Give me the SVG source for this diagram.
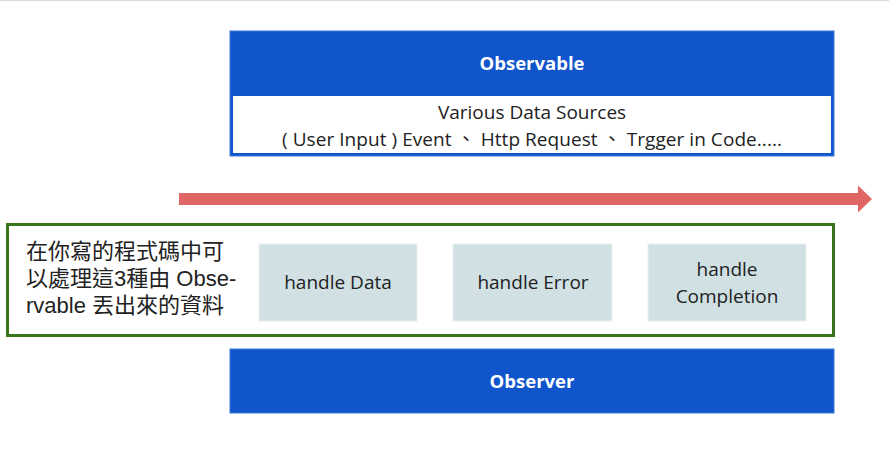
<svg xmlns="http://www.w3.org/2000/svg" width="889" height="454" viewBox="0 0 889 454">
<style>
.blue{fill:#1155cc;stroke:#3c78d8;stroke-width:1}
.hbox{fill:#d0e0e3;stroke:#e8f0f1;stroke-width:1}
.t{font-family:"Open Sans","Liberation Sans","Noto Sans CJK TC",sans-serif;font-size:19px;fill:#222;text-anchor:middle}
.tb{font-family:"Open Sans","Liberation Sans",sans-serif;font-size:18.5px;font-weight:bold;fill:#fff;text-anchor:middle}
.cjk{font-family:"Liberation Sans","Noto Sans CJK TC",sans-serif;font-size:22px;fill:#222}
</style>
<rect x="0" y="0" width="889" height="454" fill="#fff"/>
<line x1="0" y1="0.5" x2="889" y2="0.5" stroke="#d9d9d9" stroke-width="1"/>
<g id="observable">
<rect class="blue" x="230" y="31" width="604" height="125"/>
<rect x="233" y="96" width="598" height="57" fill="#fff"/>
<text class="tb" x="532" y="70">Observable</text>
<text class="t" x="532" y="119">Various Data Sources</text>
<text class="t" x="532" y="146" textLength="500" lengthAdjust="spacing">( User Input ) Event 、 Http Request 、 Trgger in Code.....</text>
</g>
<g id="connectors">
<polygon points="179,193 858,193 858,185.5 872,199 858,212.5 858,205 179,205" fill="#e06666"/>
</g>
<g id="subscriber">
<rect x="7.5" y="224.5" width="826" height="111" fill="#fff" stroke="#38761d" stroke-width="3"/>
<text class="cjk" x="26" y="259">在你寫的程式碼中可</text>
<text class="cjk" x="26" y="286">以處理這3種由 Obse-</text>
<text class="cjk" x="26" y="313">rvable 丟出來的資料</text>
</g>
<g id="handle-data">
<rect class="hbox" x="259" y="244" width="158" height="77"/>
<text class="t" x="338" y="289">handle Data</text>
</g>
<g id="handle-error">
<rect class="hbox" x="453" y="244" width="159" height="77"/>
<text class="t" x="533" y="289">handle Error</text>
</g>
<g id="handle-completion">
<rect class="hbox" x="648" y="244" width="158" height="77"/>
<text class="t" x="727" y="276">handle</text>
<text class="t" x="727" y="303">Completion</text>
</g>
<g id="observer">
<rect class="blue" x="230" y="349" width="604" height="64"/>
<text class="tb" x="532" y="388">Observer</text>
</g>
</svg>
